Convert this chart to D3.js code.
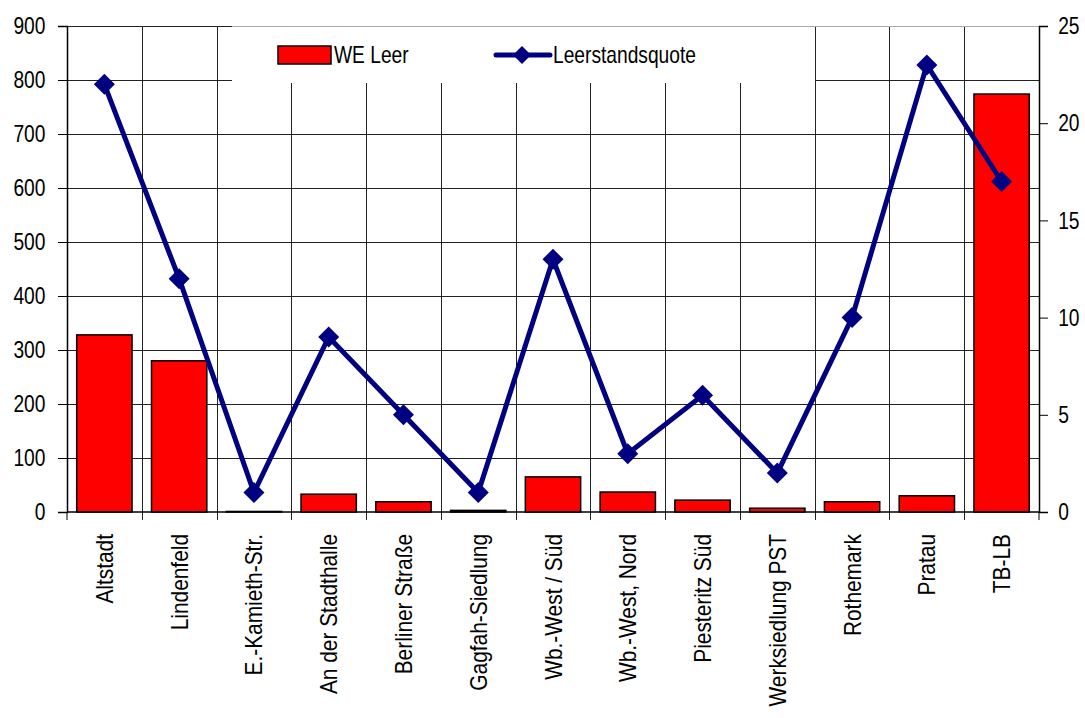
<!DOCTYPE html>
<html><head><meta charset="utf-8">
<script src="https://cdn.jsdelivr.net/npm/d3@7"></script>
<style>
body{margin:0;background:#fff;}
svg text{font-family:"Liberation Sans Narrow","Arial Narrow","Liberation Sans",sans-serif;fill:#000;}
</style></head>
<body><svg id="c" width="1085" height="718"></svg>
<script>
const categories = ["Altstadt","Lindenfeld","E.-Kamieth-Str.","An der Stadthalle","Berliner Straße","Gagfah-Siedlung","Wb.-West / Süd","Wb.-West, Nord","Piesteritz Süd","Werksiedlung PST","Rothemark","Pratau","TB-LB"];
const weLeer = [328, 280, 1, 33, 19, 3, 65, 37, 22, 7, 19, 30, 774];
const quote = [22, 12, 1, 9, 5, 1, 13, 3, 6, 2, 10, 23, 17];
const leftTicks = [0,100,200,300,400,500,600,700,800,900];
const rightTicks = [0,5,10,15,20,25];
const seriesNames = ["WE Leer","Leerstandsquote"];

const FS = 24, SX = 0.8, SXL = 0.87;
const svg = d3.select("#c");
const L = 67, R = 1039, T = 26, B = 512;
const x = d3.scaleBand().domain(categories).range([L, R]).paddingInner(0.26).paddingOuter(0.13);
const xb = d3.scaleBand().domain(categories).range([L, R]);
const y = d3.scaleLinear().domain([0, 900]).range([B, T]);
const y2 = d3.scaleLinear().domain([0, 25]).range([B, T]);

// horizontal grid
svg.append("g").selectAll("line").data(leftTicks.filter(d=>d>0)).join("line")
  .attr("x1", L).attr("x2", R).attr("y1", d=>y(d)+0.5).attr("y2", d=>y(d)+0.5)
  .attr("stroke", "#222").attr("stroke-width", 1);
// vertical grid at category boundaries
svg.append("g").selectAll("line").data(categories.slice(1)).join("line")
  .attr("x1", d=>Math.round(xb(d))+0.5).attr("x2", d=>Math.round(xb(d))+0.5)
  .attr("y1", T).attr("y2", B+8).attr("stroke", "#222").attr("stroke-width", 1);

// legend box
svg.append("rect").attr("x", 232).attr("y", T).attr("width", 583).attr("height", 57).attr("fill", "#fff");
svg.append("line").attr("x1", 232).attr("x2", R).attr("y1", T+0.5).attr("y2", T+0.5).attr("stroke", "#aaa");

// bars
svg.append("g").selectAll("rect").data(categories).join("rect")
  .attr("x", d=>x(d)).attr("width", x.bandwidth())
  .attr("y", (d,i)=>y(weLeer[i])).attr("height", (d,i)=>B - y(weLeer[i]))
  .attr("fill", "#ff0000").attr("stroke", "#000").attr("stroke-width", 1.5);

// axes
const ax = svg.append("g").attr("transform", `translate(${L},0)`)
  .call(d3.axisLeft(y).tickValues(leftTicks).tickSize(9).tickPadding(18));
const ax2 = svg.append("g").attr("transform", `translate(${R},0)`)
  .call(d3.axisRight(y2).tickValues(rightTicks).tickSize(9).tickPadding(15));
[ax, ax2].forEach(a=>{
  a.select(".domain").attr("stroke", "#000").attr("stroke-width", 1.5);
  a.selectAll(".tick line").attr("stroke", "#000");
  a.selectAll("text").attr("font-size", FS).attr("font-family", null).attr("transform", `scale(${SX},1)`);
});
// bottom axis line
svg.append("line").attr("x1", L).attr("x2", R).attr("y1", B).attr("y2", B).attr("stroke", "#000").attr("stroke-width", 1.5);
svg.append("g").selectAll("line").data([L, R]).join("line")
  .attr("x1", d=>d).attr("x2", d=>d).attr("y1", B).attr("y2", B+8).attr("stroke", "#000");

// x labels
svg.append("g").selectAll("text").data(categories).join("text")
  .attr("transform", d=>`translate(${xb(d)+xb.bandwidth()/2+8.5},534) rotate(-90) scale(${SXL},1)`)
  .attr("text-anchor", "end").attr("font-size", FS).text(d=>d);

// line
const cx = d=>xb(d)+xb.bandwidth()/2;
svg.append("path").datum(categories)
  .attr("d", d3.line().x(d=>cx(d)).y((d,i)=>y2(quote[i])))
  .attr("fill", "none").attr("stroke", "#000080").attr("stroke-width", 5).attr("stroke-linejoin", "miter");
svg.append("g").selectAll("path").data(categories).join("path")
  .attr("transform", (d,i)=>`translate(${cx(d)},${y2(quote[i])})`)
  .attr("d", "M0,-10.5L10.5,0L0,10.5L-10.5,0Z").attr("fill", "#000080");

// legend
const lg = svg.append("g");
lg.append("rect").attr("x", 278).attr("y", 46).attr("width", 53).attr("height", 18)
  .attr("fill", "#ff0000").attr("stroke", "#000").attr("stroke-width", 1.5);
lg.append("text").attr("transform", `translate(334,63) scale(${SX},1)`).attr("font-size", FS).text(seriesNames[0]);
lg.append("line").attr("x1", 496).attr("x2", 550).attr("y1", 55).attr("y2", 55)
  .attr("stroke", "#000080").attr("stroke-width", 5).attr("stroke-linecap", "round");
lg.append("path").attr("transform", "translate(522,55)").attr("d", "M0,-9L9,0L0,9L-9,0Z").attr("fill", "#000080");
lg.append("text").attr("transform", `translate(553,63) scale(${SX},1)`).attr("font-size", FS).text(seriesNames[1]);
</script></body></html>
